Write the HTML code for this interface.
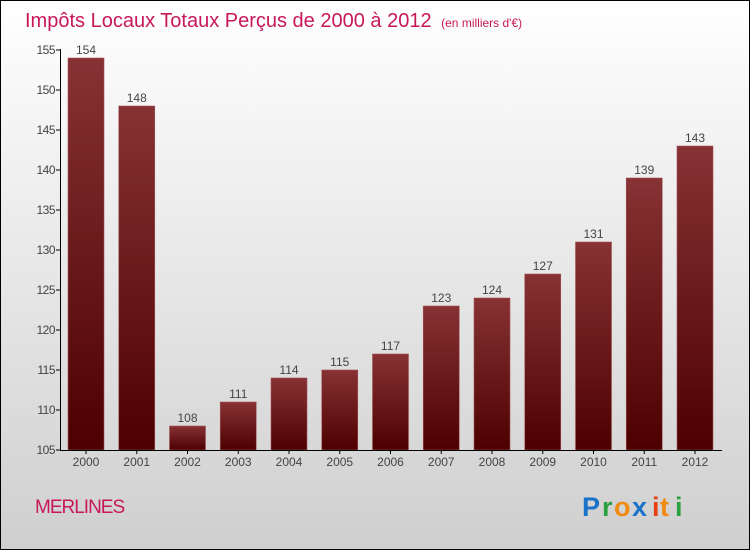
<!DOCTYPE html>
<html><head><meta charset="utf-8"><style>
html,body{margin:0;padding:0;width:750px;height:550px;overflow:hidden}
svg{display:block;font-family:"Liberation Sans",sans-serif}
</style></head><body>
<svg id="c" width="750" height="550" xmlns="http://www.w3.org/2000/svg">
<defs>
<linearGradient id="bg" x1="0" y1="0" x2="0" y2="1"><stop offset="0" stop-color="#ffffff"/><stop offset="1" stop-color="#cfcfcf"/></linearGradient>
<linearGradient id="bar" x1="0" y1="0" x2="0" y2="1"><stop offset="0" stop-color="#873234"/><stop offset="1" stop-color="#4d0000"/></linearGradient>
</defs>
<rect x="0.5" y="0.5" width="749" height="549" fill="url(#bg)" stroke="#000"/>
<text x="25" y="27" font-size="20" fill="#c8185a">Impôts Locaux Totaux Perçus de 2000 à 2012 <tspan font-size="12" dx="4">(en milliers d'€)</tspan></text>
<g id="plot"></g>
<text x="35" y="513" font-size="19" fill="#c8185a" letter-spacing="-1">MERLINES</text>
<g font-size="27" font-weight="bold" font-family="'Liberation Sans',sans-serif">
<text x="582" y="516" fill="#1a73c8">P</text><text x="602" y="516" fill="#2aa040">r</text><text x="614" y="516" fill="#f08a10">o</text><text x="632" y="516" fill="#1a73c8">x</text><text x="652" y="516" fill="#e84010">i</text><text x="660" y="516" fill="#f08a10">t</text><text x="675" y="516" fill="#2aa040">i</text>
</g>
</svg>
<script>
const years=["2000","2001","2002","2003","2004","2005","2006","2007","2008","2009","2010","2011","2012"];
const values=[154,148,108,111,114,115,117,123,124,127,131,139,143];
const yTicks=[105,110,115,120,125,130,135,140,145,150,155];
const NS="http://www.w3.org/2000/svg";
const g=document.getElementById('plot');
const y0=450,y1=50,vmin=105,vmax=155;
const ys=v=>y0-(v-vmin)/(vmax-vmin)*(y0-y1);
const xs=i=>86+i*50.75;
function el(t,a){const e=document.createElementNS(NS,t);for(const k in a)e.setAttribute(k,a[k]);g.appendChild(e);return e;}
years.forEach((yr,i)=>{
 const b=el('rect',{x:xs(i)-18,y:ys(values[i]),width:36,height:y0-ys(values[i]),fill:'url(#bar)',stroke:'#a05556','stroke-width':0.6});
 
 
 const l=el('text',{x:xs(i),y:ys(values[i])-4,'font-size':12,fill:'#444','text-anchor':'middle'});l.textContent=values[i];
 
 
 const t=el('text',{x:xs(i),y:466,'font-size':12,fill:'#444','text-anchor':'middle'});t.textContent=yr;
 
 
 el('line',{x1:xs(i),x2:xs(i),y1:450,y2:454,stroke:'#000'});
});
yTicks.forEach(v=>{
 el('line',{x1:56,x2:60,y1:ys(v),y2:ys(v),stroke:'#000'});
 const t=el('text',{x:55,y:ys(v)+4,'font-size':12,fill:'#444','text-anchor':'end','letter-spacing':'-0.5'});t.textContent=v;
 
 
});
const ya=el('line',{x1:60.5,x2:60.5,y1:49,y2:450,stroke:'#000'});


const xa=el('line',{x1:60,x2:722,y1:450.5,y2:450.5,stroke:'#000'});


</script>
</body></html>
